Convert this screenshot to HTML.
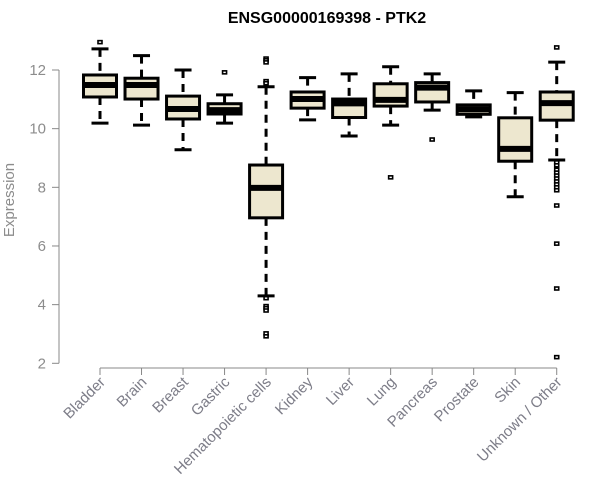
<!DOCTYPE html>
<html><head><meta charset="utf-8"><style>
body{margin:0;background:#fff;}
svg{display:block;font-family:"Liberation Sans",Arial,sans-serif;}
</style></head><body>
<svg id="c" width="600" height="500" viewBox="0 0 600 500">
<text x="327" y="23" text-anchor="middle" font-size="16" font-weight="bold">ENSG00000169398 - PTK2</text>
<text transform="translate(14,200) rotate(-90)" text-anchor="middle" font-size="15" fill="#8c8c8c">Expression</text>
<g id="axes"></g><g id="boxes"></g>
</svg>
<script>
const categories=["Bladder","Brain","Breast","Gastric","Hematopoietic cells","Kidney","Liver","Lung","Pancreas","Prostate","Skin","Unknown / Other"];
const whiskerLow=[10.19,10.12,9.28,10.19,4.30,10.30,9.75,10.12,10.63,10.40,7.68,8.93];
const q1=[11.08,11.01,10.33,10.50,6.96,10.70,10.38,10.77,10.91,10.49,8.89,10.29];
const medians=[11.49,11.49,10.67,10.63,7.98,11.01,10.86,10.98,11.40,10.66,9.31,10.87];
const q3=[11.83,11.72,11.11,10.85,8.76,11.25,11.01,11.53,11.57,10.81,10.37,11.25];
const whiskerHigh=[12.72,12.49,12.00,11.15,11.43,11.74,11.87,12.11,11.87,11.29,11.23,12.27];
const outliers=[[12.95],[],[],[11.92],[12.39,12.33,12.26,11.62,11.55,4.22,3.95,3.88,3.80,3.02,2.92],[],[],[8.34],[9.63],[],[],[12.77,8.85,8.75,8.6,8.5,8.4,8.3,8.2,8.1,8.0,7.9,7.38,6.08,4.55,2.21]];
const yTicks=[2,4,6,8,10,12];
const NS="http://www.w3.org/2000/svg";
const y=v=>70+(12-v)*29.33;
const x=i=>100+i*41.52;
function mk(t,a,p){const e=document.createElementNS(NS,t);for(const k in a)e.setAttribute(k,a[k]);p.appendChild(e);return e;}
const ax=document.getElementById('axes'),bx=document.getElementById('boxes');
const yl=mk('line',{x1:59,x2:59,y1:y(12),y2:y(2),stroke:'#888'},ax);


yTicks.forEach(v=>{
 const t=mk('line',{x1:52,x2:59,y1:y(v),y2:y(v),stroke:'#888'},ax);
 
 
 const l=mk('text',{x:46,y:y(v)+5,'text-anchor':'end','font-size':15,fill:'#8c8c8c'},ax);
 l.textContent=v;
 
 
});
const xl=mk('line',{x1:x(0),x2:x(categories.length-1),y1:368,y2:368,stroke:'#888'},ax);


categories.forEach((c,i)=>{
 const cx=x(i),w=16.5;
 const t=mk('line',{x1:cx,x2:cx,y1:368,y2:375,stroke:'#888'},ax);
 
 
 const l=mk('text',{transform:`translate(${cx+6},383) rotate(-45)`,'text-anchor':'end','font-size':15,fill:'#7d7d88'},ax);
 l.textContent=c;
 
 
 const g=mk('g',{},bx);
 
 
 mk('line',{x1:cx,x2:cx,y1:y(whiskerHigh[i]),y2:y(q3[i]),stroke:'#000','stroke-width':3,'stroke-dasharray':'8,6'},g);
 mk('line',{x1:cx,x2:cx,y1:y(q1[i]),y2:y(whiskerLow[i]),stroke:'#000','stroke-width':3,'stroke-dasharray':'8,6'},g);
 mk('line',{x1:cx-8.5,x2:cx+8.5,y1:y(whiskerHigh[i]),y2:y(whiskerHigh[i]),stroke:'#000','stroke-width':3},g);
 mk('line',{x1:cx-8.5,x2:cx+8.5,y1:y(whiskerLow[i]),y2:y(whiskerLow[i]),stroke:'#000','stroke-width':3},g);
 mk('rect',{x:cx-w,y:y(q3[i]),width:2*w,height:y(q1[i])-y(q3[i]),fill:'#ede7cf',stroke:'#000','stroke-width':3},g);
 mk('line',{x1:cx-w,x2:cx+w,y1:y(medians[i]),y2:y(medians[i]),stroke:'#000','stroke-width':6},g);
 outliers[i].forEach(v=>{
  const o=mk('rect',{x:cx-2,y:y(v)-1.5,width:4,height:3,fill:'#fff',stroke:'#000','stroke-width':1.6},g);
  
  
 });
});
</script>
</body></html>
